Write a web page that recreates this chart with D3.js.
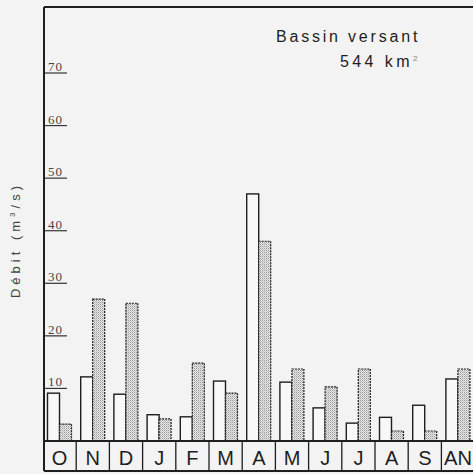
<!DOCTYPE html>
<html><head><meta charset="utf-8">
<script src="https://cdn.jsdelivr.net/npm/d3@7"></script>
<style>
html,body{margin:0;padding:0;background:#f3f3f3;overflow:hidden}
svg{display:block}
</style></head>
<body>
<svg id="c" width="473" height="474"></svg>
<script>
const months = ["O","N","D","J","F","M","A","M","J","J","A","S","AN"];
const seriesWhite = [9.1, 12.2, 8.9, 5.0, 4.6, 11.4, 47.0, 11.2, 6.3, 3.4, 4.5, 6.8, 11.8];
const seriesDotted = [3.2, 27.0, 26.2, 4.2, 14.8, 9.1, 38.0, 13.7, 10.3, 13.7, 1.9, 1.9, 13.7];
const yTicks = [10, 20, 30, 40, 50, 60, 70];

(function(){
const svg = d3.select("#c");
const W = 473, H = 474;
const frameLeft = 44, frameTop = 7, base = 441, frameBottom = 471;

svg.append("rect").attr("width", W).attr("height", H).attr("fill", "#f3f3f3");

const defs = svg.append("defs");
const pat = defs.append("pattern").attr("id", "stip").attr("patternUnits", "userSpaceOnUse")
  .attr("width", 2).attr("height", 2);
pat.append("rect").attr("width", 2).attr("height", 2).attr("fill", "#e6e6e6");
pat.append("rect").attr("width", 1).attr("height", 1).attr("fill", "#9a9a9a");
pat.append("rect").attr("x", 1).attr("y", 1).attr("width", 1).attr("height", 1).attr("fill", "#c4c4c4");

const x = d3.scaleBand().domain(d3.range(months.length)).range([43, 43 + 33.2 * months.length]).padding(0);
const xs = d3.scaleBand().domain(["w", "d"]).range([4.5, 28.5]).padding(0);
const y = d3.scaleLinear().domain([0, 70]).range([base, 73]);

const ink = "#1e1e1e";

// bars
const g = svg.append("g");
g.selectAll(".bw").data(seriesWhite).join("rect")
  .attr("x", (d, i) => x(i) + xs("w"))
  .attr("y", d => y(d))
  .attr("width", xs.bandwidth())
  .attr("height", d => base - y(d))
  .attr("fill", "#f8f8f8").attr("stroke", ink).attr("stroke-width", 1.4);
g.selectAll(".bd").data(seriesDotted).join("rect")
  .attr("x", (d, i) => x(i) + xs("d"))
  .attr("y", d => y(d))
  .attr("width", xs.bandwidth())
  .attr("height", d => base - y(d))
  .attr("fill", "url(#stip)").attr("stroke", ink).attr("stroke-width", 1.2)
  .attr("stroke-dasharray", "2,1");

// y ticks inside frame
const ty = svg.append("g");
ty.selectAll("line").data(yTicks).join("line")
  .attr("x1", frameLeft).attr("x2", 67)
  .attr("y1", d => y(d)).attr("y2", d => y(d))
  .attr("stroke", "#333").attr("stroke-width", 1.2);
ty.selectAll("text").data(yTicks).join("text")
  .attr("x", 48).attr("y", d => y(d) - 2)
  .attr("font-family", "'Liberation Serif','DejaVu Serif',serif")
  .attr("font-size", 13).attr("fill", "#444").attr("letter-spacing", 1)
  .text(d => d);

// frame
svg.append("line").attr("x1", frameLeft).attr("x2", W + 5).attr("y1", frameTop).attr("y2", frameTop)
  .attr("stroke", ink).attr("stroke-width", 1.8);
svg.append("line").attr("x1", frameLeft).attr("x2", frameLeft).attr("y1", frameTop).attr("y2", frameBottom)
  .attr("stroke", ink).attr("stroke-width", 2);
svg.append("line").attr("x1", frameLeft).attr("x2", W + 5).attr("y1", base).attr("y2", base)
  .attr("stroke", ink).attr("stroke-width", 1.8);
svg.append("line").attr("x1", frameLeft).attr("x2", W + 5).attr("y1", frameBottom).attr("y2", frameBottom)
  .attr("stroke", ink).attr("stroke-width", 1.8);

// month cells
const cells = svg.append("g");
const edge = i => (i < months.length ? x(i) : x(months.length - 1) + x.bandwidth());
cells.selectAll("line").data(d3.range(1, months.length + 1)).join("line")
  .attr("x1", edge).attr("x2", edge)
  .attr("y1", base).attr("y2", frameBottom)
  .attr("stroke", ink).attr("stroke-width", 1.3);
cells.selectAll("text").data(months).join("text")
  .attr("x", (d, i) => x(i) + x.bandwidth() / 2)
  .attr("y", 465)
  .attr("text-anchor", "middle")
  .attr("font-family", "'Liberation Sans',Arial,sans-serif")
  .attr("font-size", 20).attr("fill", ink)
  .each(function(d){ if (d.length > 1) d3.select(this).attr("textLength", 28).attr("lengthAdjust", "spacingAndGlyphs"); })
  .text(d => d);

// titles
svg.append("text")
  .attr("transform", "translate(20,240) rotate(-90)")
  .attr("text-anchor", "middle")
  .attr("font-family", "'Liberation Sans',Arial,sans-serif")
  .attr("font-size", 13).attr("fill", "#444").attr("letter-spacing", 4)
  .html('Débit (m<tspan font-size="8" dy="-5">3</tspan><tspan dy="5">/s)</tspan>');

svg.append("text").attr("x", 276).attr("y", 42)
  .attr("font-family", "'Liberation Sans',Arial,sans-serif")
  .attr("font-size", 16).attr("fill", ink).attr("letter-spacing", 2.8)
  .text("Bassin versant");
svg.append("text").attr("x", 340).attr("y", 67)
  .attr("font-family", "'Liberation Sans',Arial,sans-serif")
  .attr("font-size", 16).attr("fill", ink).attr("letter-spacing", 3.4)
  .html('544 km<tspan font-size="8" dy="-6" fill="#888">2</tspan>');
})();
</script>
</body></html>
